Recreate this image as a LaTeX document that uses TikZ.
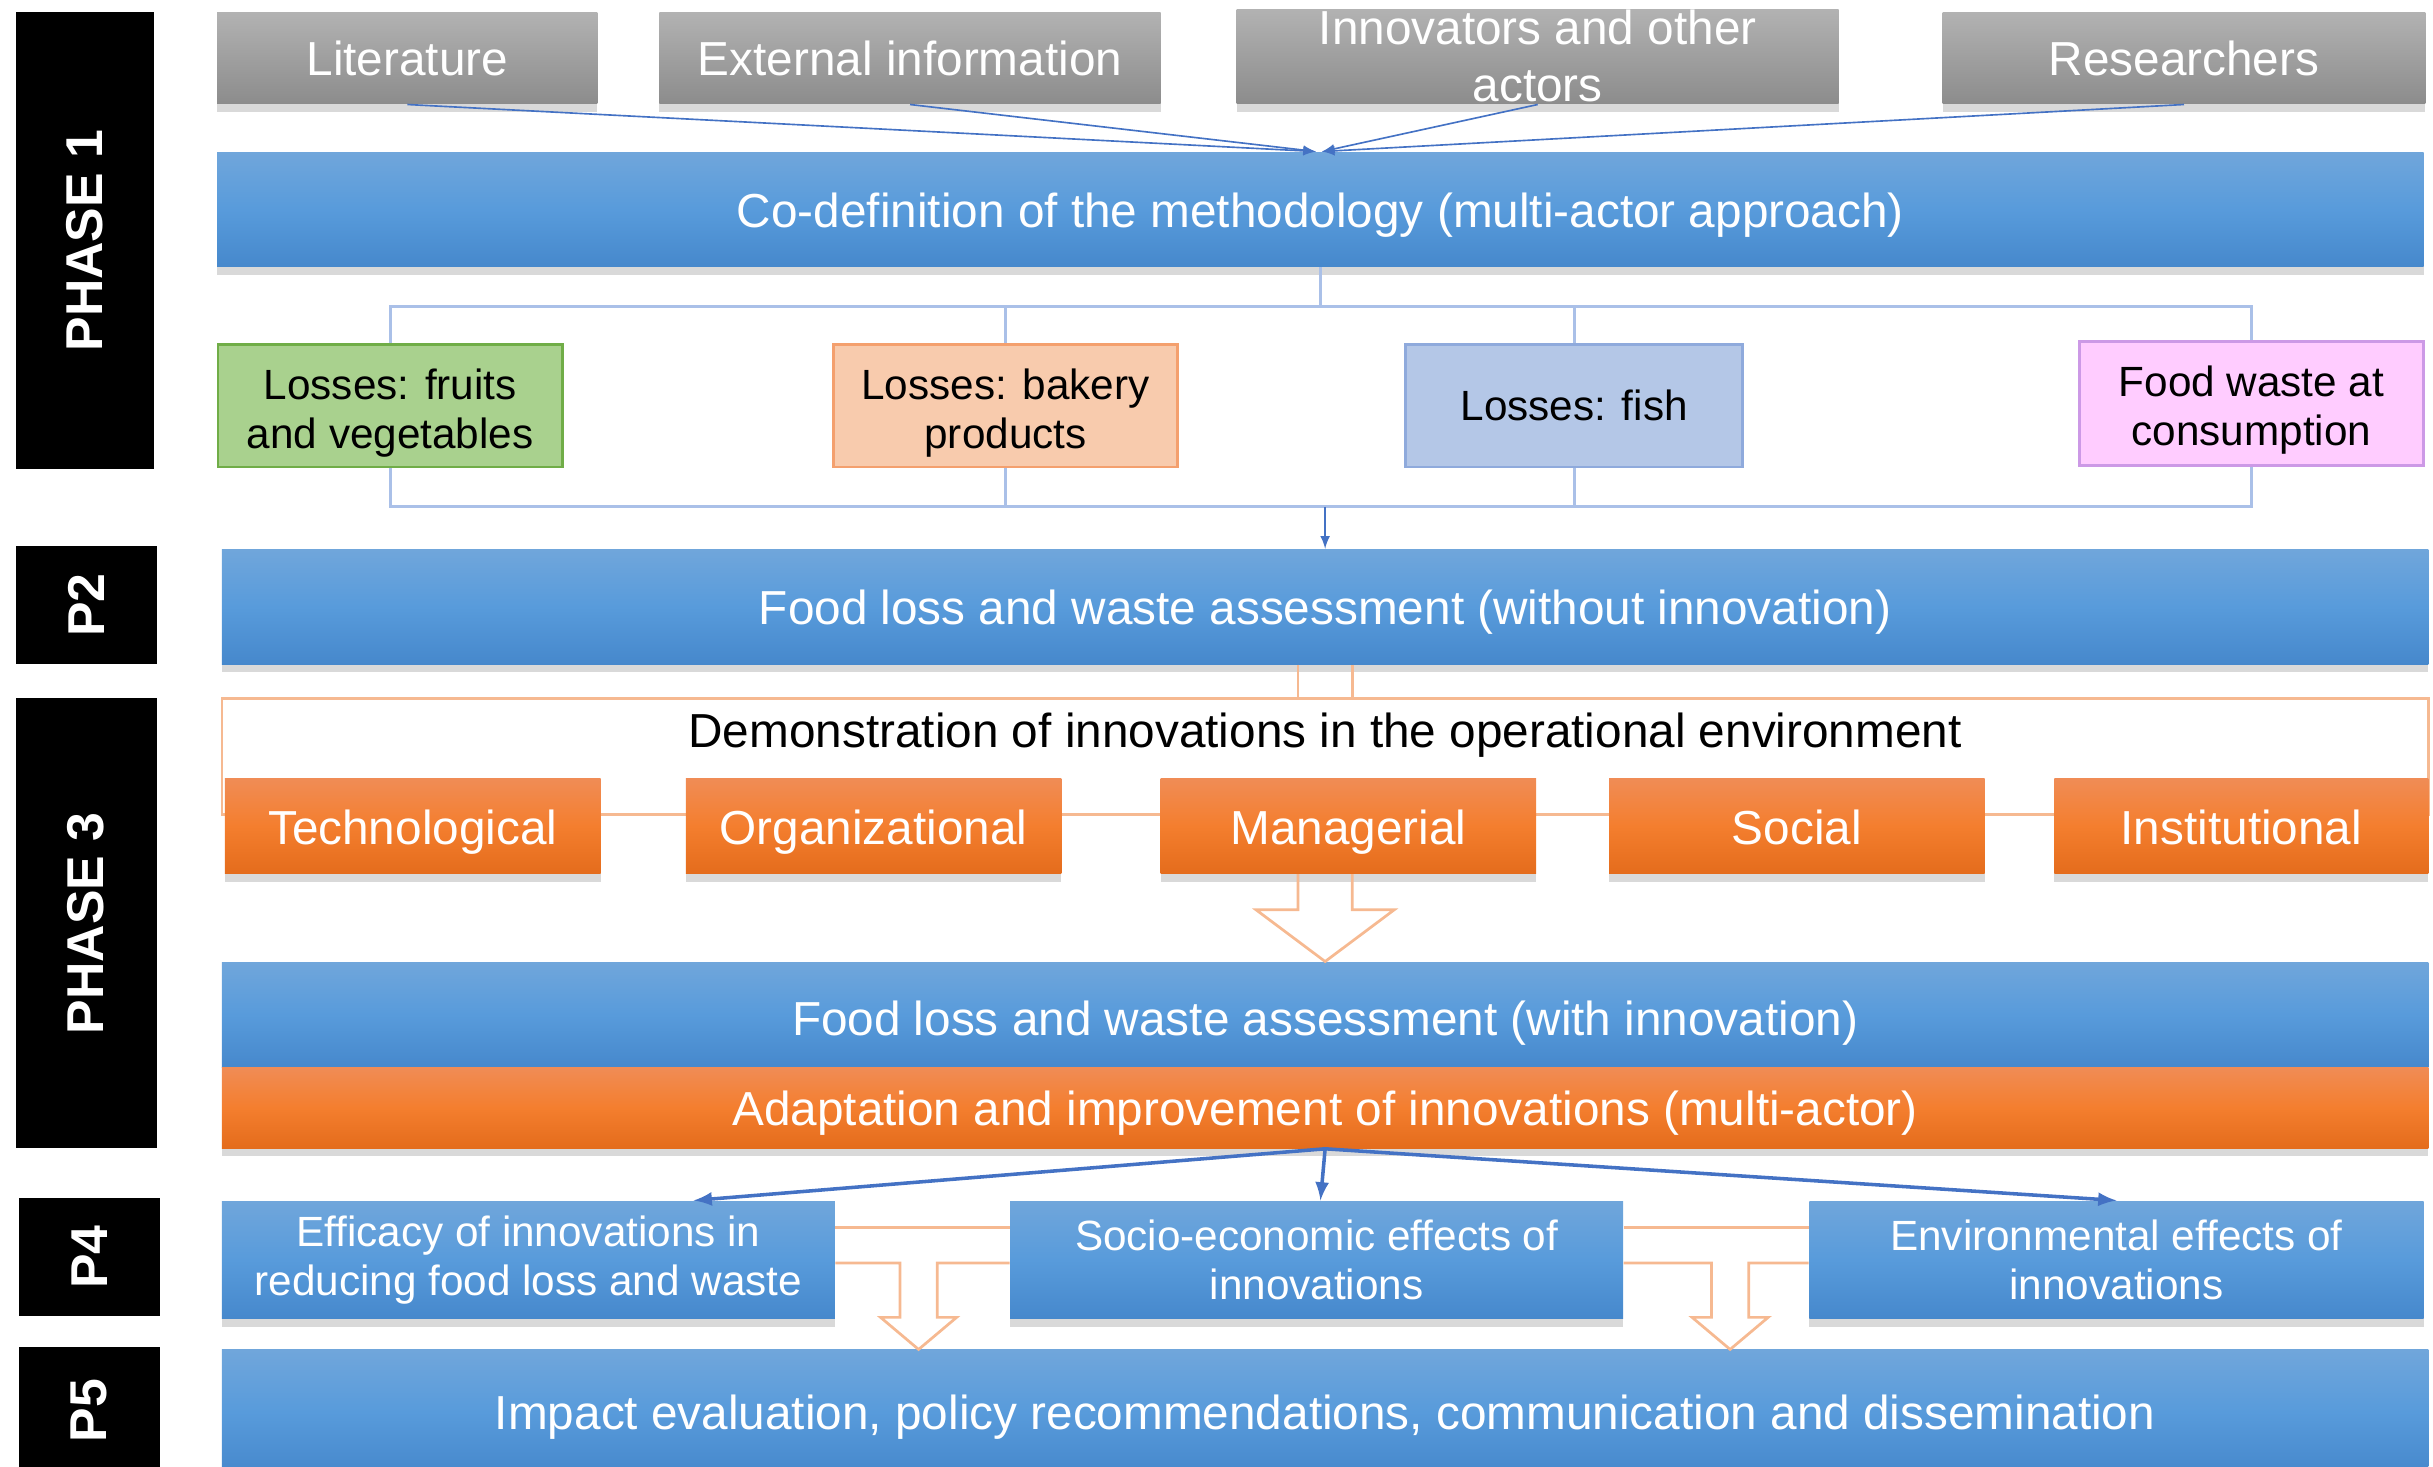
\documentclass[tikz,border=0pt]{standalone}
\usepackage{fontspec}
\setmainfont{Liberation Sans}
\usepackage{tikz}
\usetikzlibrary{calc,shadows}
\definecolor{bluetop}{RGB}{112,166,219}
\definecolor{bluemid}{RGB}{88,155,219}
\definecolor{bluebot}{RGB}{70,136,204}
\definecolor{orangetop}{RGB}{240,140,85}
\definecolor{orangemid}{RGB}{244,126,46}
\definecolor{orangebot}{RGB}{228,108,28}
\definecolor{greytop}{RGB}{178,178,178}
\definecolor{greybot}{RGB}{140,140,140}
\definecolor{fruitfill}{RGB}{169,209,142}
\definecolor{fruitline}{RGB}{112,173,71}
\definecolor{bakeryfill}{RGB}{248,203,173}
\definecolor{bakeryline}{RGB}{244,160,110}
\definecolor{fishfill}{RGB}{180,199,231}
\definecolor{fishline}{RGB}{143,170,220}
\definecolor{consfill}{RGB}{255,204,255}
\definecolor{consline}{RGB}{204,153,230}
\definecolor{connblue}{RGB}{68,114,196}
\definecolor{treeblue}{RGB}{170,192,232}
\definecolor{paleorange}{RGB}{246,185,145}
\newcommand\bigfont{\fontsize{17.5}{21}\selectfont}
\newcommand\smallfont{\fontsize{15.5}{18}\selectfont}
\newcommand\boxlabel[3][4.3cm]{\parbox{#1}{\centering #2 \\ #3 }}
\newcommand\streamlabel[3][4.3cm]{\smash{\raisebox{-6.2pt}{\parbox{#1}{\centering #2 \\ #3 }}}}
\tikzstyle{phasebox}=[rectangle,fill=black,text=white,rotate=90,inner sep=0pt,
                      font=\fontsize{19}{22}\selectfont\bfseries]
\tikzstyle{sourcebox}=[rectangle,top color=greytop,bottom color=greybot,text=white,
                       font=\bigfont,inner sep=2pt,
                       drop shadow={shadow xshift=0pt,shadow yshift=-3pt,opacity=0.3}]
\tikzstyle{bluebar}=[rectangle,top color=bluetop,bottom color=bluebot,middle color=bluemid,
                     text=white,font=\bigfont,inner sep=2pt,text height=13pt,text depth=0pt,
                     drop shadow={shadow xshift=0pt,shadow yshift=-3pt,opacity=0.3}]
\tikzstyle{orangebar}=[rectangle,top color=orangetop,bottom color=orangebot,middle color=orangemid,
                       text=white,font=\bigfont,inner sep=2pt,text height=13pt,text depth=0pt,
                       drop shadow={shadow xshift=0pt,shadow yshift=-3pt,opacity=0.3}]
\tikzstyle{streambox}=[rectangle,line width=1pt,text=black,font=\smallfont,inner sep=2pt]
\tikzstyle{effectbox}=[bluebar,font=\smallfont,text height=,text depth=]
\tikzstyle{feedline}=[draw=connblue,line width=0.6pt,-latex]
\tikzstyle{splitarrow}=[draw=connblue,line width=1.3pt,-latex]
\tikzstyle{treeline}=[draw=treeblue,line width=1pt]
\tikzstyle{hollowline}=[draw=paleorange,line width=1pt]

\begin{document}
\begin{tikzpicture}
    \useasboundingbox (0,0) rectangle (31.36,-18.9);
    % phase labels
    \node [phasebox,minimum width=5.88cm,minimum height=1.78cm] (phase1) at (1.09,-3.10) {PHASE 1};
    \node [phasebox,minimum width=1.52cm,minimum height=1.82cm] (phase2) at (1.11,-7.80) {P2};
    \node [phasebox,minimum width=5.80cm,minimum height=1.82cm] (phase3) at (1.11,-11.90) {PHASE 3};
    \node [phasebox,minimum width=1.52cm,minimum height=1.82cm] (phase4) at (1.15,-16.20) {P4};
    \node [phasebox,minimum width=1.64cm,minimum height=1.82cm] (phase5) at (1.15,-18.18) {P5};

    % sources
    \node [sourcebox,minimum width=4.90cm,minimum height=1.18cm] (lit) at (5.25,-0.75) {Literature};
    \node [sourcebox,minimum width=6.46cm,minimum height=1.18cm] (ext) at (11.73,-0.75) {External information};
    \node [sourcebox,minimum width=7.76cm,minimum height=1.22cm] (innov) at (19.82,-0.73) {
        \smash{\raisebox{-0.14cm}{\boxlabel[7.5cm]{Innovators and other}{actors}}}
    };
    \node [sourcebox,minimum width=6.22cm,minimum height=1.18cm] (res) at (28.15,-0.75) {Researchers};

    \node [bluebar,minimum width=28.44cm,minimum height=1.48cm] (codef) at (17.02,-2.70)
        {Co-definition of the methodology (multi-actor approach)};

    % food streams
    \node [streambox,draw=fruitline,fill=fruitfill,minimum width=4.34cm,minimum height=1.58cm] (fruit) at (5.03,-5.23) {
        \streamlabel{Losses: fruits}{and vegetables}
    };
    \node [streambox,draw=bakeryline,fill=bakeryfill,minimum width=4.36cm,minimum height=1.58cm] (bakery) at (12.96,-5.23) {
        \streamlabel{Losses: bakery}{products}
    };
    \node [streambox,draw=fishline,fill=fishfill,minimum width=4.34cm,minimum height=1.58cm] (fish) at (20.29,-5.23) {Losses: fish};
    \node [streambox,draw=consline,fill=consfill,minimum width=4.36cm,minimum height=1.60cm] (cons) at (29.02,-5.20) {
        \streamlabel{Food waste at}{consumption}
    };

    \node [bluebar,minimum width=28.44cm,minimum height=1.48cm] (p2) at (17.08,-7.82)
        {Food loss and waste assessment (without innovation)};

    % demonstration
    \node [rectangle,draw=paleorange,line width=1pt,minimum width=28.44cm,minimum height=1.50cm] (demo) at (17.08,-9.75) {};
    \node [font=\bigfont,text=black] (demolabel) at (17.08,-9.48)
        {Demonstration of innovations in the operational environment};
    \node [orangebar,minimum width=4.84cm,minimum height=1.22cm] (tech) at (5.32,-10.65) {Technological};
    \node [orangebar,minimum width=4.84cm,minimum height=1.22cm] (org) at (11.26,-10.65) {Organizational};
    \node [orangebar,minimum width=4.84cm,minimum height=1.22cm] (man) at (17.38,-10.65) {Managerial};
    \node [orangebar,minimum width=4.84cm,minimum height=1.22cm] (soc) at (23.16,-10.65) {Social};
    \node [orangebar,minimum width=4.82cm,minimum height=1.22cm] (inst) at (28.89,-10.65) {Institutional};

    \node [bluebar,minimum width=28.44cm,minimum height=1.36cm,text height=15pt] (withinno) at (17.08,-13.08)
        {Food loss and waste assessment (with innovation)};
    \node [orangebar,minimum width=28.44cm,minimum height=1.04cm] (adapt) at (17.08,-14.28)
        {Adaptation and improvement of innovations (multi-actor)};

    % effects
    \node [effectbox,minimum width=7.90cm,minimum height=1.52cm] (eff) at (6.81,-16.24) {
        \boxlabel[7.6cm]{Efficacy of innovations in}{reducing food loss and waste}
    };
    \node [effectbox,minimum width=7.90cm,minimum height=1.52cm] (socio) at (16.97,-16.24) {
        \boxlabel[7.6cm]{Socio-economic effects of}{innovations}
    };
    \node [effectbox,minimum width=7.92cm,minimum height=1.52cm] (env) at (27.28,-16.24) {
        \boxlabel[7.6cm]{Environmental effects of}{innovations}
    };

    \node [bluebar,minimum width=28.44cm,minimum height=1.60cm] (p5) at (17.08,-18.20)
        {Impact evaluation, policy recommendations, communication and dissemination};

    % sources into the methodology
    \draw [feedline] (lit.south) -- ($(codef.north)+(-0.06,0)$);
    \draw [feedline] (ext.south) -- ($(codef.north)+(-0.06,0)$);
    \draw [feedline] (innov.south) -- ($(codef.north)+(0.02,0)$);
    \draw [feedline] (res.south) -- ($(codef.north)+(0.02,0)$);

    % tree to the food streams
    \coordinate (bustop) at ($(codef.south)+(0,-0.50)$);
    \coordinate (busbot) at ($(p2.north)+(0,0.54)$);
    \draw [treeline] (codef.south) -- (bustop);
    \draw [treeline] (fruit.north) |- (cons.north |- bustop) -- (cons.north);
    \draw [treeline] (bakery.north) -- (bakery.north |- bustop);
    \draw [treeline] (fish.north) -- (fish.north |- bustop);
    \draw [treeline] (fruit.south) |- (cons.south |- busbot) -- (cons.south);
    \draw [treeline] (bakery.south) -- (bakery.south |- busbot);
    \draw [treeline] (fish.south) -- (fish.south |- busbot);
    \draw [feedline] (busbot) -- (p2.north);

    % hollow arrow through the demonstration
    \draw [hollowline] ($(p2.south)+(-0.35,0)$) -- ($(demo.north)+(-0.35,0)$);
    \draw [hollowline] ($(p2.south)+(0.35,0)$) -- ($(demo.north)+(0.35,0)$);
    \coordinate (mantop) at (man.south -| p2.south);
    \draw [hollowline] ($(mantop)+(-0.35,0)$) -- ($(mantop)+(-0.35,-0.46)$) -- ($(mantop)+(-0.89,-0.46)$)
        -- (withinno.north) -- ($(mantop)+(0.89,-0.46)$) -- ($(mantop)+(0.35,-0.46)$) -- ($(mantop)+(0.35,0)$);

    % split to the effects
    \draw [splitarrow] (adapt.south) -- ($(eff.north)+(2.13,0)$);
    \draw [splitarrow] (adapt.south) -- ($(socio.north)+(0.05,0)$);
    \draw [splitarrow] (adapt.south) -- (env.north);

    % hollow arrows into the impact evaluation
    \coordinate (teea) at (11.84,-16.28);
    \coordinate (teeb) at (22.30,-16.28);
    \draw [hollowline] ($(eff.east)+(0,0.42)$) -- ($(socio.west)+(0,0.42)$);
    \draw [hollowline] ($(eff.east)+(0,-0.04)$) -- ($(teea)+(-0.24,0)$) -- ($(teea)+(-0.24,-0.70)$)
        -- ($(teea)+(-0.49,-0.70)$) -- (teea |- p5.north) -- ($(teea)+(0.49,-0.70)$)
        -- ($(teea)+(0.24,-0.70)$) -- ($(teea)+(0.24,0)$) -- ($(socio.west)+(0,-0.04)$);
    \draw [hollowline] ($(socio.east)+(0,0.42)$) -- ($(env.west)+(0,0.42)$);
    \draw [hollowline] ($(socio.east)+(0,-0.04)$) -- ($(teeb)+(-0.24,0)$) -- ($(teeb)+(-0.24,-0.70)$)
        -- ($(teeb)+(-0.49,-0.70)$) -- (teeb |- p5.north) -- ($(teeb)+(0.49,-0.70)$)
        -- ($(teeb)+(0.24,-0.70)$) -- ($(teeb)+(0.24,0)$) -- ($(env.west)+(0,-0.04)$);
\end{tikzpicture}
\end{document}
